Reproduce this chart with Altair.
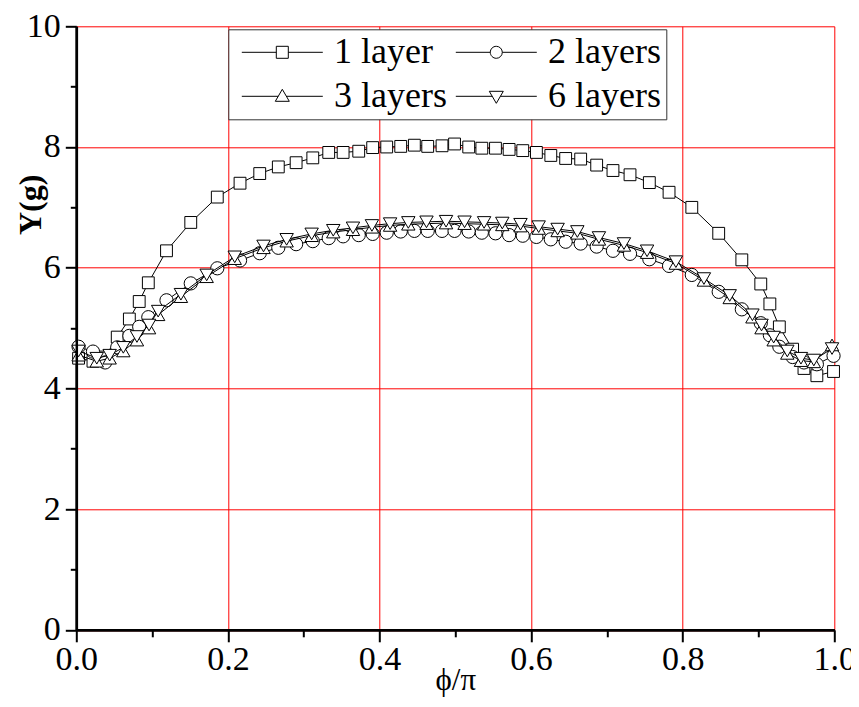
import altair as alt
import pandas as pd

# ---------------- data ----------------
series_names = ["1 layer", "2 layers", "3 layers", "6 layers"]

phi_a = [0.003, 0.022, 0.038, 0.054, 0.070, 0.083, 0.095, 0.119, 0.151, 0.186,
         0.216, 0.242, 0.2665, 0.290, 0.312, 0.333, 0.352, 0.3726, 0.391, 0.4095,
         0.428, 0.446, 0.4636, 0.4825, 0.499, 0.5177, 0.535, 0.553, 0.571, 0.589,
         0.607, 0.626, 0.6456, 0.6654, 0.6865, 0.708, 0.7305, 0.756, 0.782, 0.812,
         0.8475, 0.878, 0.903, 0.915, 0.9275, 0.945, 0.960, 0.977, 0.999]

y_1layer = [4.50, 4.45, 4.52, 4.85, 5.15, 5.44, 5.75, 6.28, 6.75, 7.17,
            7.40, 7.56, 7.67, 7.74, 7.82, 7.91, 7.91, 7.93, 7.99, 8.00,
            8.01, 8.03, 8.01, 8.02, 8.05, 8.00, 7.98, 7.98, 7.96, 7.94,
            7.91, 7.86, 7.81, 7.80, 7.70, 7.61, 7.54, 7.41, 7.25, 7.00,
            6.57, 6.13, 5.73, 5.40, 5.02, 4.65, 4.33, 4.21, 4.28]

y_2layers = [4.69, 4.61, 4.43, 4.68, 4.87, 5.02, 5.18, 5.46, 5.74, 5.99,
             6.12, 6.24, 6.33, 6.39, 6.44, 6.49, 6.52, 6.54, 6.56, 6.58,
             6.60, 6.61, 6.61, 6.61, 6.61, 6.60, 6.58, 6.57, 6.54, 6.53,
             6.51, 6.47, 6.43, 6.40, 6.35, 6.28, 6.23, 6.14, 6.03, 5.88,
             5.60, 5.31, 5.08, 4.88, 4.69, 4.52, 4.43, 4.40, 4.54]

phi_b = [0.003, 0.027, 0.044, 0.062, 0.080, 0.096, 0.108, 0.138, 0.172, 0.209,
         0.247, 0.2775, 0.3105, 0.339, 0.365, 0.390, 0.414, 0.438, 0.462, 0.4878,
         0.5122, 0.538, 0.562, 0.586, 0.610, 0.635, 0.661, 0.6895, 0.7225, 0.753,
         0.791, 0.828, 0.862, 0.892, 0.904, 0.920, 0.938, 0.956, 0.973, 0.997]

y_3layers = [4.55, 4.45, 4.50, 4.62, 4.80, 5.00, 5.22, 5.52, 5.85, 6.15,
             6.33, 6.44, 6.53, 6.59, 6.63, 6.67, 6.70, 6.72, 6.73, 6.74,
             6.73, 6.72, 6.71, 6.69, 6.65, 6.61, 6.57, 6.47, 6.37, 6.25,
             6.07, 5.79, 5.50, 5.18, 5.00, 4.80, 4.58, 4.46, 4.44, 4.72]

y_6layers = [4.62, 4.50, 4.55, 4.68, 4.86, 5.05, 5.28, 5.56, 5.88, 6.18,
             6.36, 6.47, 6.56, 6.62, 6.66, 6.70, 6.73, 6.75, 6.76, 6.77,
             6.76, 6.75, 6.74, 6.72, 6.68, 6.64, 6.60, 6.50, 6.40, 6.28,
             6.10, 5.82, 5.54, 5.22, 5.05, 4.85, 4.62, 4.50, 4.47, 4.66]

x_ticks = [0.0, 0.2, 0.4, 0.6, 0.8, 1.0]
x_minor = [0.1, 0.3, 0.5, 0.7, 0.9]
y_ticks = [0, 2, 4, 6, 8, 10]
y_minor = [1, 3, 5, 7, 9]

# ---------------- styling ----------------
FONT = "Liberation Serif"
W, H = 758, 603.5

xscale = alt.Scale(domain=[0, 1], nice=False, zero=False)
yscale = alt.Scale(domain=[0, 10], nice=False, zero=False)

x_main = alt.X("phi:Q", scale=xscale, axis=alt.Axis(
    values=x_ticks, format=".1f", title="ϕ/π", grid=True, gridColor="#ff0000",
    gridWidth=1, tickSize=12, tickWidth=2, tickColor="black", domainColor="black",
    domainWidth=2.5, labelFont=FONT, labelFontSize=34, labelColor="black",
    labelPadding=1, labelFlush=False, titleFont=FONT, titleFontSize=31,
    titleFontWeight="normal", titleColor="black", titleBaseline="alphabetic",
    titleY=60, titleX=W / 2))
y_main = alt.Y("Y:Q", scale=yscale, axis=alt.Axis(
    values=y_ticks, title="Y(g)", grid=True, gridColor="#ff0000", gridWidth=1,
    tickSize=11, tickWidth=2, tickColor="black", domainColor="black",
    domainWidth=2.5, labelFont=FONT, labelFontSize=34, labelColor="black",
    labelPadding=5, titleFont=FONT, titleFontSize=32, titleFontWeight="bold",
    titleColor="black", titleAngle=270, titleBaseline="bottom",
    titleAlign="center", titleX=-29, titleY=178))


def series_layer(xs, ys, shape, size):
    df = pd.DataFrame({"phi": xs, "Y": ys, "idx": list(range(len(xs)))})
    base = alt.Chart(df).encode(x=x_main, y=y_main, order="idx:Q")
    line = base.mark_line(color="black", strokeWidth=1)
    pts = base.mark_point(shape=shape, size=size, filled=True, fill="white",
                          stroke="black", strokeWidth=1, opacity=1)
    return [line, pts]


layers = []
layers += series_layer(phi_a, y_1layer, "square", 140)
layers += series_layer(phi_a, y_2layers, "circle", 175)
layers += series_layer(phi_b, y_3layers, "triangle-up", 180)
layers += series_layer(phi_b, y_6layers, "triangle-down", 180)
data_group = alt.layer(*layers)

# legend symbols: line with marker in the middle
legend_paths = [
    "M-4.05,0H-0.6M0.6,0H4.05M-0.6,-0.6H0.6V0.6H-0.6Z",
    "M-4.05,0H-0.6M0.6,0H4.05M0.6,0A0.6,0.6 0 1 1 -0.6,0A0.6,0.6 0 1 1 0.6,0Z",
    "M-4.05,0H-0.41M0.41,0H4.05M0,-0.7L0.7,0.5L-0.7,0.5Z",
    "M-4.05,0H-0.41M0.41,0H4.05M0,0.7L0.7,-0.5L-0.7,-0.5Z",
]
# anchor rows lie outside the axis domain, so only their legend is visible
legend_df = pd.DataFrame({"series": series_names, "phi": [-2.0] * 4, "Y": [-20.0] * 4})
legend_layer = alt.Chart(legend_df).mark_point(
    filled=False, color="black", strokeWidth=1, size=400
).encode(
    x=alt.X("phi:Q", scale=xscale, axis=alt.Axis(
        values=x_minor, orient="bottom", labels=False, grid=False, title=None,
        tickSize=7, tickWidth=2, tickColor="black", domain=True,
        domainColor="black", domainWidth=2.5, zindex=1)),
    y=alt.Y("Y:Q", scale=yscale, axis=alt.Axis(
        values=y_minor, orient="left", labels=False, grid=False, title=None,
        tickSize=6, tickWidth=2, tickColor="black", domain=True,
        domainColor="black", domainWidth=2.5, zindex=1)),
    shape=alt.Shape("series:N", scale=alt.Scale(domain=series_names, range=legend_paths),
                    legend=alt.Legend(
                        title=None, orient="none", legendX=152, legendY=3, columns=2,
                        direction="horizontal",
                        labelFont=FONT, labelFontSize=36, labelColor="black",
                        symbolSize=400, symbolOffset=31, labelOffset=33.7,
                        symbolFillColor="white", symbolStrokeColor="black",
                        symbolStrokeWidth=1, symbolOpacity=1,
                        padding=5, rowPadding=8, columnPadding=-6,
                        strokeColor="#333333", fillColor="white", labelLimit=300)),
)

chart = alt.layer(data_group, legend_layer).resolve_axis(
    x="independent", y="independent"
).properties(
    width=W, height=H,
    autosize=alt.AutoSizeParams(type="none"),
    padding={"left": 68.3, "top": 18.3, "right": 16.7, "bottom": 69},
    background="white",
).configure_view(stroke=None)

chart.save("out.html", embed_options={"renderer": "svg", "actions": False})
